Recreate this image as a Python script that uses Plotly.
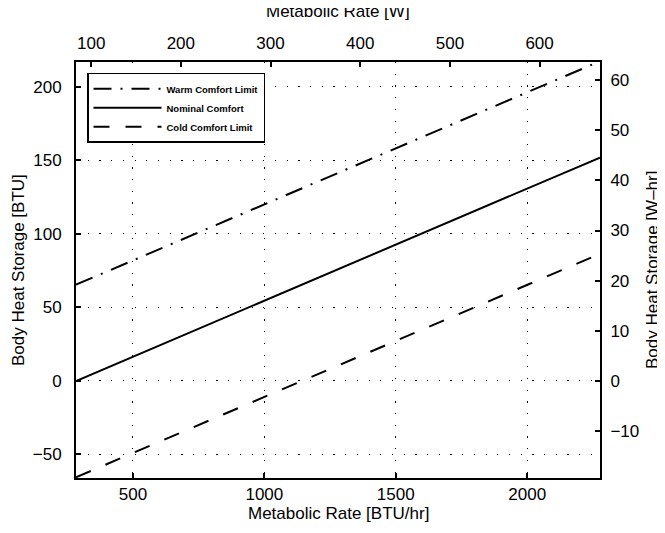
import plotly.graph_objects as go

# ---- data ----
BTU_PER_W = 3.412                     # 1 W = 3.412 BTU/hr ; 1 W-hr = 3.412 BTU
metabolic_rate_btu_hr = [283.5, 2277.0]
nominal_comfort = [0.0, 152.0]
warm_comfort_limit = [65.5, 217.5]
cold_comfort_limit = [-65.5, 86.5]

x_range = [283.5, 2277.0]
y_range = [-66.0, 217.0]
x_ticks = [500, 1000, 1500, 2000]
y_ticks = [-50, 0, 50, 100, 150, 200]
x2_ticks = [100, 200, 300, 400, 500, 600]
y2_ticks = [-10, 0, 10, 20, 30, 40, 50, 60]

FONT = "Liberation Sans, Arial, Helvetica, sans-serif"

fig = go.Figure()
fig.add_trace(go.Scatter(x=metabolic_rate_btu_hr, y=warm_comfort_limit, mode="lines",
                         name="Warm Comfort Limit",
                         line=dict(color="black", width=2, dash="18px,9px,2px,9px")))
fig.add_trace(go.Scatter(x=metabolic_rate_btu_hr, y=nominal_comfort, mode="lines",
                         name="Nominal Comfort",
                         line=dict(color="black", width=2)))
fig.add_trace(go.Scatter(x=metabolic_rate_btu_hr, y=cold_comfort_limit, mode="lines",
                         name="Cold Comfort Limit",
                         line=dict(color="black", width=2, dash="16px,16px")))
# invisible trace to activate the secondary axes (W and W-hr)
fig.add_trace(go.Scatter(x=[v / BTU_PER_W for v in metabolic_rate_btu_hr],
                         y=[v / BTU_PER_W for v in nominal_comfort],
                         xaxis="x2", yaxis="y2", mode="lines", showlegend=False,
                         hoverinfo="skip", line=dict(color="rgba(0,0,0,0)", width=0)))

tickfont = dict(family=FONT, size=17, color="black")
common = dict(ticks="inside", ticklen=5, tickwidth=1.5, tickcolor="black",
              showline=True, linewidth=2, linecolor="black", tickfont=tickfont,
              zeroline=False)

# the page body adds an 8px offset, so the figure is 8px smaller than the window
fig.update_layout(
    width=657, height=525,
    margin=dict(l=68, r=65, t=54, b=55),
    paper_bgcolor="white", plot_bgcolor="white",
    font=dict(family=FONT, color="black"),
    xaxis=dict(range=x_range, tickvals=x_ticks, showgrid=True, gridcolor="black",
               gridwidth=1.2, griddash="1.2px,10.5px", ticklabelstandoff=0, **common),
    yaxis=dict(range=y_range, tickvals=y_ticks, showgrid=True, gridcolor="black",
               gridwidth=1.2, griddash="1.2px,10.5px", ticklabelstandoff=9, **common),
    xaxis2=dict(range=[v / BTU_PER_W for v in x_range], tickvals=x2_ticks,
                overlaying="x", side="top", showgrid=False, anchor="y",
                ticklabelstandoff=4, **common),
    yaxis2=dict(range=[v / BTU_PER_W for v in y_range], tickvals=y2_ticks,
                overlaying="y", side="right", showgrid=False, anchor="x",
                ticklabelstandoff=5, **common),
    legend=dict(x=0.021, y=0.974, xanchor="left", yanchor="top",
                bgcolor="white", bordercolor="black", borderwidth=1.5,
                font=dict(family=FONT, size=9.5, color="black", weight="bold"),
                itemwidth=68, tracegroupgap=0),
    showlegend=True,
)

title_font = dict(family=FONT, size=17, color="black")
fig.add_annotation(text="Metabolic Rate [BTU/hr]", xref="paper", yref="paper",
                   x=0.5, y=0, yanchor="middle", yshift=-35, showarrow=False, font=title_font)
fig.add_annotation(text="Metabolic Rate [W]", xref="paper", yref="paper",
                   x=0.5, y=1, yanchor="middle", yshift=51, showarrow=False, font=title_font)
fig.add_annotation(text="Body Heat Storage [BTU]", xref="paper", yref="paper",
                   x=0, y=0.5, xanchor="center", xshift=-58, textangle=-90,
                   showarrow=False, font=title_font)
fig.add_annotation(text="Body Heat Storage [W\u2013hr]", xref="paper", yref="paper",
                   x=1, y=0.5, xanchor="center", xshift=52, textangle=-90,
                   showarrow=False, font=title_font)

fig.write_html("out.html", config=dict(displayModeBar=False))
